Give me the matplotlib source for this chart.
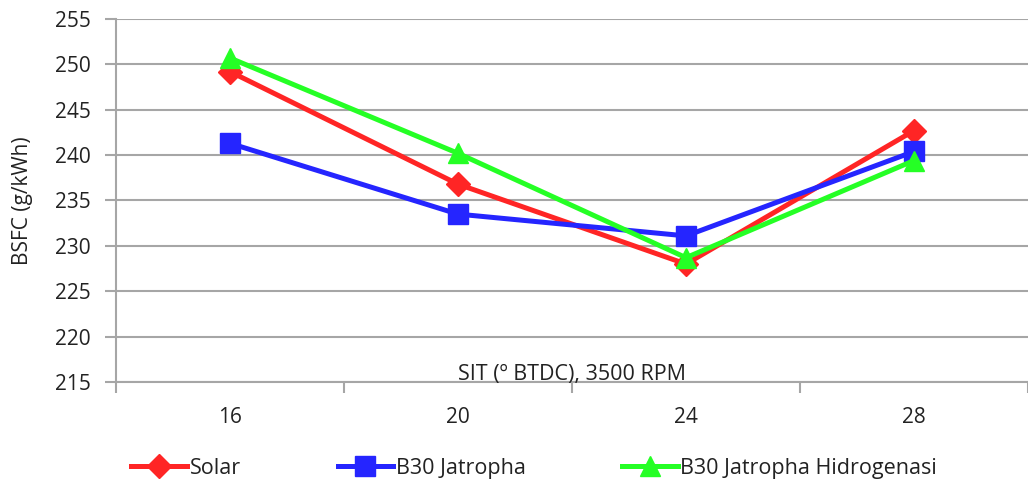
import matplotlib.pyplot as plt
from matplotlib.ticker import FixedLocator, NullFormatter

plt.rcParams['font.family'] = ['Open Sans', 'DejaVu Sans']

sit = [16, 20, 24, 28]
solar = [249.2, 236.8, 228.0, 242.7]
b30_jatropha = [241.3, 233.5, 231.1, 240.4]
b30_hidrogenasi = [250.7, 240.2, 228.7, 239.4]
y_ticks = [215, 220, 225, 230, 235, 240, 245, 250, 255]
x_bounds = [14, 18, 22, 26, 30]

fig = plt.figure(figsize=(10.28, 4.79), dpi=100)
ax = fig.add_axes([116 / 1028, 1 - 382 / 479, 1 - 116 / 1028, (382 - 19) / 479])

grid_c = '#a6a6a6'
txt_c = '#222222'
ax.plot(sit, solar, color='#ff2525', lw=3.6, marker='D', ms=12, label='Solar', zorder=3)
ax.plot(sit, b30_jatropha, color='#2525ff', lw=3.6, marker='s', ms=14, label='B30 Jatropha', zorder=3)
ax.plot(sit, b30_hidrogenasi, color='#25ff25', lw=3.6, marker='^', ms=15, label='B30 Jatropha Hidrogenasi', zorder=3)

ax.set_xlim(14, 30)
ax.set_ylim(215, 255)
ax.set_yticks(y_ticks)
ax.yaxis.grid(True, color=grid_c, lw=1.5)
ax.set_axisbelow(True)

ax.xaxis.set_major_locator(FixedLocator(x_bounds))
ax.xaxis.set_major_formatter(NullFormatter())
ax.xaxis.set_minor_locator(FixedLocator(sit))
ax.set_xticklabels([str(v) for v in sit], minor=True)
ax.tick_params(axis='x', which='major', length=8, width=1.5, color=grid_c)
ax.tick_params(axis='x', which='minor', length=0, pad=18, labelsize=15, labelcolor=txt_c)
ax.tick_params(axis='y', length=8, width=1.5, color=grid_c, pad=10, labelsize=15, labelcolor=txt_c)

for side in ['top', 'right']:
    ax.spines[side].set_visible(False)
for side in ['left', 'bottom']:
    ax.spines[side].set_color(grid_c)
    ax.spines[side].set_linewidth(1.5)

ax.set_ylabel('BSFC (g/kWh)', fontsize=15, color=txt_c)
ax.yaxis.set_label_coords(-0.091, 0.5)
ax.text(0.5, 0.02, 'SIT (º BTDC), 3500 RPM', transform=ax.transAxes, ha='center', va='center',
        fontsize=15.5, color=txt_c)

fig.legend(loc='lower left', bbox_to_anchor=(112 / 1028, -0.04), ncol=3, frameon=False, fontsize=15.5,
           handlelength=2.6, handletextpad=0.1, columnspacing=4.5, labelcolor=txt_c)

fig.savefig('out.png', dpi=100)
